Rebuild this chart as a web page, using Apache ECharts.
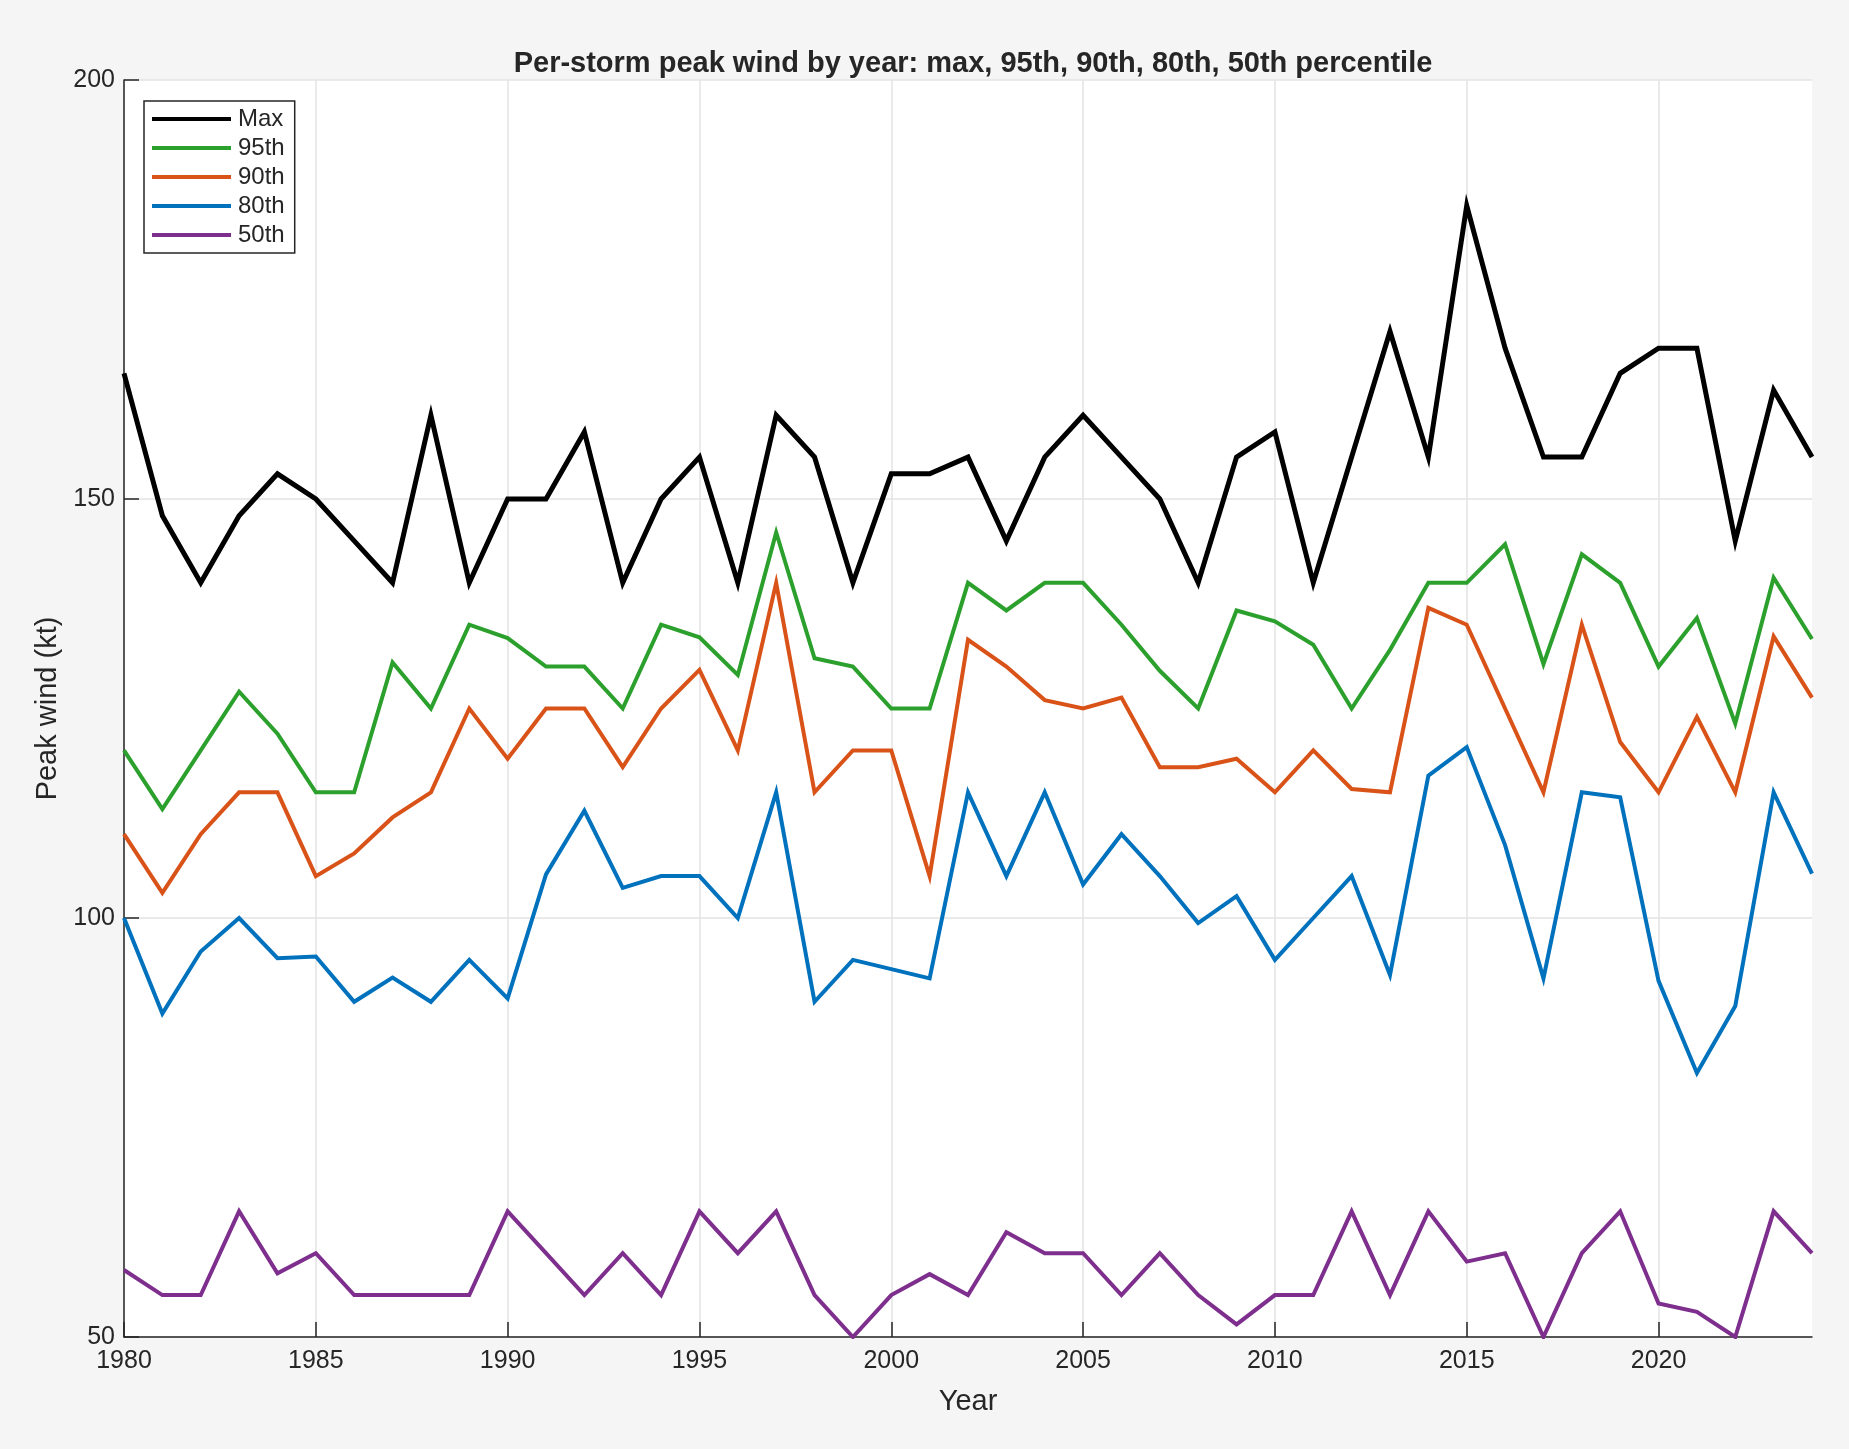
<!DOCTYPE html>
<html>
<head>
<meta charset="utf-8">
<script src="https://cdn.jsdelivr.net/npm/echarts@6/dist/echarts.min.js"></script>
<style>
html,body{margin:0;padding:0;background:#f5f5f5;}
#chart{width:1849px;height:1449px;}
</style>
</head>
<body>
<div id="chart"></div>
<script>
const years = [];
for (let y = 1980; y <= 2024; y++) years.push(y);
const xTickYears = [1980, 1985, 1990, 1995, 2000, 2005, 2010, 2015, 2020];

const seriesNames = ['Max', '95th', '90th', '80th', '50th'];

const maxWind = [165,148,140,148,153,150,145,140,160,140,150,150,158,140,150,155,140,160,155,140,153,153,155,145,155,160,155,150,140,155,158,140,155,170,155,185,168,155,155,165,168,168,145,163,155];
const p95 = [120,113,120,127,122,115,115,130.5,125,135,133.4,130,130,125,135,133.5,129,146,131,130,125,125,140,136.7,140,140,135,129.5,125,136.7,135.4,132.6,125,132,140,140,144.6,130.3,143.4,140,130,135.8,123.2,140.6,133.3];
const p90 = [110,103,110,115,115,105,107.7,112,115,125,119,125,125,118,125,129.6,120,140,115,120,120,105,133.2,130,126,125,126.3,118,118,119,115,120,115.4,115,137,135,125,115,135,121,115,124,115,133.6,126.3];
const p80 = [100,88.6,96,100,95.2,95.4,90,92.9,90,95,90.4,105.2,112.8,103.6,105,105,100,115,90,95,93.9,92.8,115,105,115,104,110,105,99.4,102.6,95,100,105,93.2,117,120.4,108.7,92.8,115,114.4,92.5,81.5,89.5,115,105.3];
const p50 = [58,55,55,65,57.6,60,55,55,55,55,65,60,55,60,55,65,60,65,55,50,55,57.5,55,62.5,60,60,55,60,55,51.5,55,55,65,55,65,59,60,50,60,65,54,53,50,65,60];

const colors = ['#000000', '#2ca02c', '#d95319', '#0072bd', '#7e2f8e'];
const widths = [5, 4, 4, 4, 4];
const allData = [maxWind, p95, p90, p80, p50];

const chart = echarts.init(document.getElementById('chart'));
const font = 'Liberation Sans, Arial, Helvetica, sans-serif';

const series = seriesNames.map((name, i) => ({
  name: name,
  type: 'line',
  data: years.map((y, k) => [y, allData[i][k]]),
  symbol: 'none',
  lineStyle: { color: colors[i], width: widths[i], join: 'miter', miterLimit: 10 },
  itemStyle: { color: colors[i] },
  z: 10 - i,
  animation: false
}));

chart.setOption({
  backgroundColor: '#f5f5f5',
  animation: false,
  title: {
    text: 'Per-storm peak wind by year: max, 95th, 90th, 80th, 50th percentile',
    left: 968,
    textAlign: 'center',
    top: 44,
    textStyle: { fontFamily: font, fontSize: 29, fontWeight: 'bold', color: '#262626' }
  },
  legend: {
    orient: 'vertical',
    left: 144,
    top: 101,
    data: seriesNames,
    icon: 'rect',
    itemWidth: 79,
    itemHeight: 4,
    itemGap: 5,
    padding: [6, 10, 6, 8],
    backgroundColor: '#ffffff',
    borderColor: '#262626',
    borderWidth: 1.5,
    borderRadius: 0,
    textStyle: { fontFamily: font, fontSize: 24, color: '#262626', padding: [0, 0, 0, 2] }
  },
  grid: {
    left: 124, right: 37, top: 80, bottom: 112,
    show: true, backgroundColor: '#ffffff', borderWidth: 0
  },
  xAxis: {
    type: 'value',
    min: 1980, max: 2024, interval: 5,
    name: 'Year',
    nameLocation: 'middle',
    nameGap: 50,
    nameTextStyle: { fontFamily: font, fontSize: 29, color: '#262626' },
    axisLine: { show: true, lineStyle: { color: '#262626', width: 1.5 } },
    axisTick: { show: true, inside: true, length: 15, customValues: xTickYears, lineStyle: { color: '#262626', width: 1.5 } },
    axisLabel: { fontFamily: font, fontSize: 25, color: '#262626', margin: 12, customValues: xTickYears, formatter: v => String(v) },
    splitLine: { show: true, lineStyle: { color: '#e3e3e3', width: 1.5 } }
  },
  yAxis: {
    type: 'value',
    min: 50, max: 200, interval: 50,
    name: 'Peak wind (kt)',
    nameLocation: 'middle',
    nameGap: 62,
    nameRotate: 90,
    nameTextStyle: { fontFamily: font, fontSize: 29, color: '#262626' },
    axisLine: { show: true, lineStyle: { color: '#262626', width: 1.5 } },
    axisTick: { show: true, inside: true, length: 15, lineStyle: { color: '#262626', width: 1.5 } },
    axisLabel: { fontFamily: font, fontSize: 25, color: '#262626', margin: 9 },
    splitLine: { show: true, lineStyle: { color: '#e3e3e3', width: 1.5 } }
  },
  series: series
});
</script>
</body>
</html>
